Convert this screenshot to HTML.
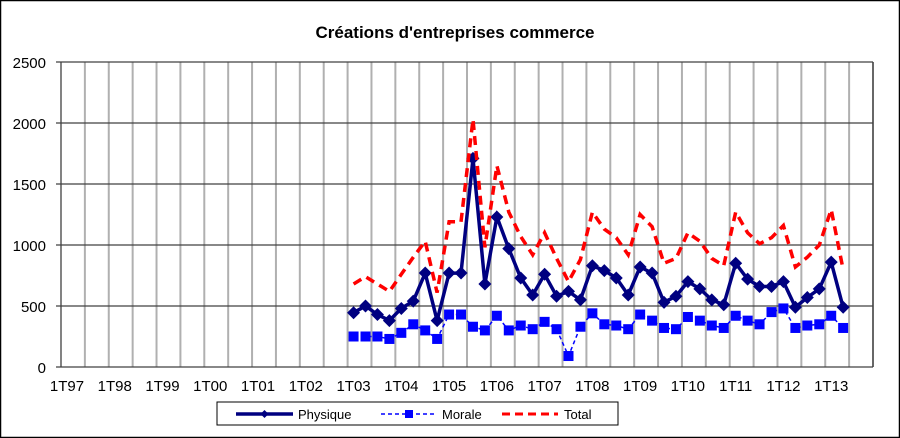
<!DOCTYPE html>
<html><head><meta charset="utf-8"><style>
body{margin:0;background:#fff;}
svg{display:block;font-family:"Liberation Sans",Arial,sans-serif;}
</style></head><body>
<svg id="s" width="900" height="438" viewBox="0 0 900 438" xmlns="http://www.w3.org/2000/svg">
<rect x="0.5" y="0.5" width="899" height="437" fill="#fff" stroke="#000" stroke-width="1.5"/>
<text x="455" y="38" font-size="17" font-weight="bold" text-anchor="middle">Créations d'entreprises commerce</text>
<g id="grid"></g>
<g id="series"></g>
<rect x="217" y="402" width="401" height="23" fill="#fff" stroke="#000" stroke-width="1"/>
<line x1="236" y1="414" x2="293" y2="414" stroke="#000080" stroke-width="3.5"/>
<path d="M264.5 410 L268.5 414 L264.5 418 L260.5 414Z" fill="#000080"/>
<text x="298" y="419" font-size="13">Physique</text>
<line x1="381" y1="414" x2="437" y2="414" stroke="#0000ff" stroke-width="1.5" stroke-dasharray="4,3"/>
<rect x="405" y="410" width="8" height="8" fill="#0000ff"/>
<text x="442" y="419" font-size="13">Morale</text>
<line x1="502" y1="414" x2="558" y2="414" stroke="#ff0000" stroke-width="3" stroke-dasharray="8,5"/>
<text x="564" y="419" font-size="13">Total</text>
</svg>
<script>
var NS="http://www.w3.org/2000/svg";
var L=61,R=873,T=62,B=367,q=(R-L)/68;
function y(v){return B-v*(B-T)/2500;}
function el(p,t,a){var e=document.createElementNS(NS,t);for(var k in a)e.setAttribute(k,a[k]);p.appendChild(e);return e;}
var g=document.getElementById('grid');
for(var i=2;i<=68;i+=2){var x=L+i*q;el(g,'line',{x1:x,y1:T,x2:x,y2:B,stroke:'#b0b0b0','stroke-width':2});}
for(var v=0;v<=2500;v+=500){el(g,'line',{x1:L-5,y1:y(v),x2:R,y2:y(v),stroke:'#404040','stroke-width':1.3});
var t=el(g,'text',{x:46,y:y(v)+6,'font-size':15,'text-anchor':'end'});t.textContent=v;}
el(g,'line',{x1:L,y1:T,x2:L,y2:B,stroke:'#404040','stroke-width':1.3});
el(g,'line',{x1:R,y1:T,x2:R,y2:B,stroke:'#404040','stroke-width':1.3});
var yrs=['97','98','99','00','01','02','03','04','05','06','07','08','09','10','11','12','13'];
for(var j=0;j<17;j++){var t=el(g,'text',{x:L+(j*4+0.5)*q,y:391,'font-size':15,'text-anchor':'middle'});t.textContent='1T'+yrs[j];}
var P=[445,500,430,380,480,540,770,380,770,770,1710,680,1230,970,730,590,760,580,620,550,830,790,730,590,820,770,530,580,700,640,550,510,850,720,660,660,700,490,570,640,860,490];
var M=[250,250,250,230,280,350,300,230,430,430,330,300,420,300,340,310,370,310,90,330,440,350,340,310,430,380,320,310,410,380,340,320,420,380,350,450,480,320,340,350,420,320];
var Tt=[680,740,680,620,760,900,1030,610,1190,1190,2030,980,1650,1270,1070,920,1100,890,700,880,1270,1130,1060,920,1250,1150,850,890,1100,1030,890,830,1270,1100,1010,1060,1160,820,900,1000,1290,800];
function px(i){return L+(24+i+0.5)*q;}
function pts(a){return a.map(function(v,i){return px(i).toFixed(1)+','+y(v).toFixed(1);}).join(' ');}
var s=document.getElementById('series');
el(s,'polyline',{points:pts(M),fill:'none',stroke:'#0000ff','stroke-width':1.5,'stroke-dasharray':'4,3'});
M.forEach(function(v,i){el(s,'rect',{x:px(i)-5,y:y(v)-5,width:10,height:10,fill:'#0000ff'});});
el(s,'polyline',{points:pts(P),fill:'none',stroke:'#000080','stroke-width':3.5});
P.forEach(function(v,i){var x=px(i),yy=y(v);el(s,'path',{d:'M'+x+' '+(yy-6.5)+' L'+(x+6.5)+' '+yy+' L'+x+' '+(yy+6.5)+' L'+(x-6.5)+' '+yy+'Z',fill:'#000080'});});
el(s,'polyline',{points:pts(Tt),fill:'none',stroke:'#ff0000','stroke-width':3.5,'stroke-dasharray':'9,6'});
</script>
</body></html>
